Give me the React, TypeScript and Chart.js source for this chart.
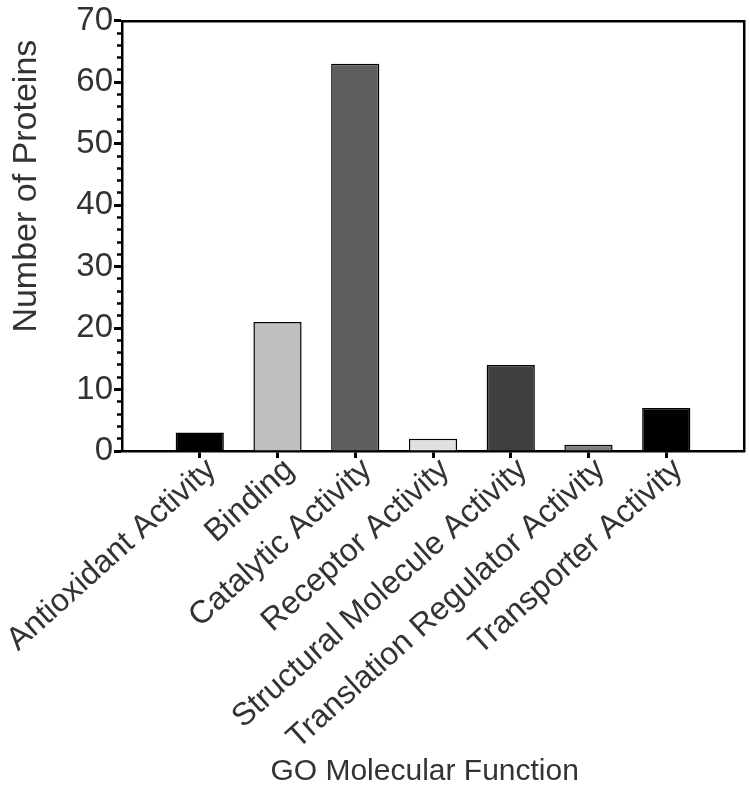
import React, { useEffect, useRef } from 'react';
import { Chart, registerables } from 'chart.js';

Chart.register(...registerables);

const categories = [
  'Antioxidant Activity',
  'Binding',
  'Catalytic Activity',
  'Receptor Activity',
  'Structural Molecule Activity',
  'Translation Regulator Activity',
  'Transporter Activity',
];
const proteinCounts = [3, 21, 63, 2, 14, 1, 7];
const barColors = ['#000000', '#bfbfbf', '#5f5f5f', '#e0e0e0', '#404040', '#7f7f7f', '#000000'];
const yMin = 0;
const yMax = 70;
const yMajorStep = 10;
const yMinorStep = 2;
const xTitle = 'GO Molecular Function  ';
const yTitle = 'Number of Proteins  ';

const FONT = "'Liberation Sans', Arial, Helvetica, sans-serif";
const TEXT = '#333333';

export default function App() {
  const ref = useRef<HTMLCanvasElement | null>(null);

  useEffect(() => {
    if (!ref.current) return;
    const chart = new Chart(ref.current, {
      type: 'bar',
      data: {
        datasets: [
          {
            label: 'Number of Proteins',
            data: proteinCounts.map((v, i) => ({ x: i + 1, y: v })),
            backgroundColor: barColors,
            borderColor: '#000000',
            borderWidth: 1.5,
            barPercentage: 0.62,
            categoryPercentage: 1,
          },
        ],
      },
      options: {
        responsive: false,
        animation: false,
        devicePixelRatio: 1,
        layout: { padding: { top: 17, right: 6, left: 0, bottom: 0 } },
        plugins: { legend: { display: false }, tooltip: { enabled: false } },
        scales: {
          x: {
            type: 'linear',
            position: 'bottom',
            min: 0,
            max: categories.length + 1,
            offset: false,
            afterBuildTicks: (scale: any) => {
              scale.ticks = categories.map((_, i) => ({ value: i + 1 }));
            },
            afterFit: (scale: any) => {
              scale.height = 349;
              scale.paddingLeft = 0;
              scale.paddingRight = 0;
            },
            grid: {
              offset: false,
              drawOnChartArea: false,
              drawTicks: true,
              tickLength: 7,
              tickWidth: 3,
              tickColor: '#000000',
            },
            border: { display: true, color: '#000000', width: 2.5 },
            ticks: {
              autoSkip: false,
              maxRotation: 42,
              minRotation: 42,
              padding: -7,
              labelOffset: 12,
              color: TEXT,
              font: { family: FONT, size: 32 },
              callback: (v: any) => categories[Math.round(Number(v)) - 1] ?? '',
            },
            title: {
              display: true,
              text: xTitle,
              color: TEXT,
              font: { family: FONT, size: 30 },
              padding: { top: 0, bottom: 10 },
            },
          },
          y: {
            type: 'linear',
            position: 'left',
            min: yMin,
            max: yMax,
            afterFit: (scale: any) => {
              scale.width = 122;
            },
            grid: {
              drawOnChartArea: false,
              drawTicks: true,
              tickLength: 8,
              tickWidth: (ctx: any) => (ctx.tick && ctx.tick.value % yMajorStep === 0 ? 3 : 2.5),
              tickColor: '#000000',
              tickBorderDash: (ctx: any) =>
                ctx.tick && ctx.tick.value % yMajorStep === 0 ? [] : [0, 3, 6, 0],
            },
            border: { display: true, color: '#000000', width: 2.5 },
            ticks: {
              stepSize: yMinorStep,
              autoSkip: false,
              padding: 1,
              color: TEXT,
              font: { family: FONT, size: 33 },
              callback: (v: any) => (Number(v) % yMajorStep === 0 ? String(v) : ''),
            },
            title: {
              display: true,
              text: yTitle,
              align: 'end',
              color: TEXT,
              font: { family: FONT, size: 34 },
              padding: { top: 6, bottom: 0 },
            },
          },
          xTop: {
            type: 'linear',
            position: 'top',
            min: 0,
            max: 1,
            afterFit: (scale: any) => {
              scale.height = 0;
            },
            grid: { drawOnChartArea: false, drawTicks: false },
            ticks: { display: false },
            border: { display: true, color: '#000000', width: 2.5 },
          },
          yRight: {
            type: 'linear',
            position: 'right',
            min: 0,
            max: 1,
            afterFit: (scale: any) => {
              scale.width = 0;
            },
            grid: { drawOnChartArea: false, drawTicks: false },
            ticks: { display: false },
            border: { display: true, color: '#000000', width: 2.5 },
          },
        },
      },
    } as any);
    return () => chart.destroy();
  }, []);

  return (
    <div style={{ position: 'absolute', left: 0, top: 0, width: 750, height: 800, background: '#ffffff' }}>
      <canvas ref={ref} width={750} height={800} />
    </div>
  );
}
